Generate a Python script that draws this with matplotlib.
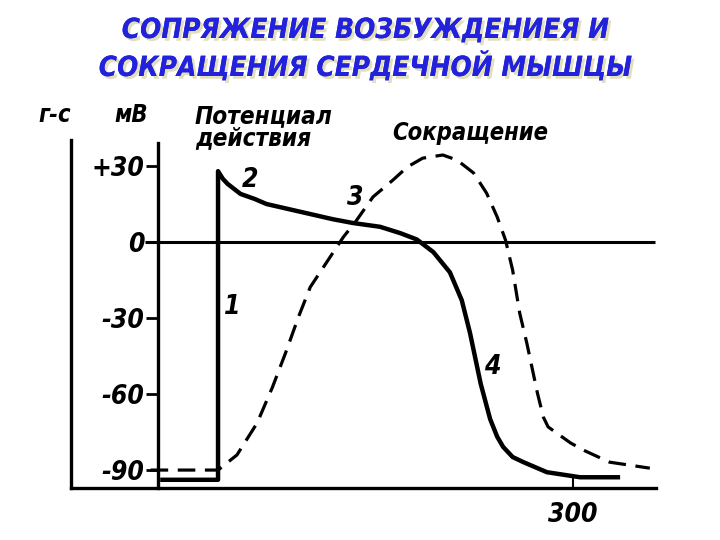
import matplotlib
matplotlib.use('Agg')
import matplotlib.pyplot as plt
import matplotlib.patheffects as pe

W, H = 720, 540

# Потенциал действия: время (мс) и мембранный потенциал (мВ)
ap_t = [-47, 0, 0, 4, 8, 19, 31, 41, 69, 97, 114, 137, 154, 168, 182, 196, 206,
        213, 222, 230, 236, 241, 249, 258, 278, 306, 338]
ap_mv = [-94, -94, 28, 25, 23, 19, 17, 15, 12, 9, 7.5, 6, 3.5, 1, -4, -12, -23,
         -36, -56, -70, -77, -81, -85, -87, -91, -93, -93]

# Сокращение: время (мс) и сила (% от максимума)
con_t = [-57, 0, 16, 33, 46, 57, 68, 78, 97, 106, 116, 131, 148, 160, 173, 190,
         202, 216, 227, 236, 243, 249, 255, 261, 270, 275, 279, 298, 309, 331, 365]
con_f = [0, 0, 4.8, 14.9, 26.3, 37.1, 48.6, 58.1, 68.9, 74.0, 78.7, 86.7, 92.1,
         96.2, 99.0, 100, 98.4, 94.3, 87.9, 80.3, 73.0, 63.5, 49.8, 40.3, 24.4,
         16.8, 13.7, 8.6, 6.3, 2.5, 0.6]

mv_ticks = [30, 0, -30, -60, -90]
mv_labels = ['+30', '0', '-30', '-60', '-90']
t_ticks = [300]
t_labels = ['300']

hand = ['DejaVu Sans']

fig = plt.figure(figsize=(W / 100, H / 100), dpi=100)
fig.patch.set_facecolor('white')


def px(x, y):
    return (x / W, 1 - y / H)


ax = fig.add_axes([0, 0, 1, 1])
ax.set_xlim(-184.3, 424.3)
ax.set_ylim(-117.8, 95.65)
ax.patch.set_alpha(0)

for s in ['top', 'right']:
    ax.spines[s].set_visible(False)
ax.spines['left'].set_position(('data', -50.7))
ax.spines['left'].set_bounds(-97.2, 39)
ax.spines['bottom'].set_position(('data', -97.2))
ax.spines['bottom'].set_bounds(-124.3, 370)
for s in ['left', 'bottom']:
    ax.spines[s].set_linewidth(2.4)

ax.set_yticks(mv_ticks)
ax.set_yticklabels(mv_labels)
ax.set_xticks(t_ticks)
ax.set_xticklabels(t_labels)
ax.tick_params(axis='y', direction='out', length=9, width=2, pad=1)
ax.tick_params(axis='x', direction='in', length=7, width=1.5, pad=10)
for lab in ax.get_yticklabels() + ax.get_xticklabels():
    lab.set_family(hand)
    lab.set_stretch('condensed')
    lab.set_fontsize(19)
    lab.set_style('italic')
    lab.set_weight('bold')

ax.hlines(0, -61.7, 369.4, color='black', lw=2.2)
ax.plot(ap_t, ap_mv, color='black', lw=3.2, solid_joinstyle='round')

# ось силы сокращения
ax2 = ax.twinx()
ax2.set_ylim(-22.2, 149.2)
ax2.set_yticks([])
for s in ['top', 'right', 'bottom']:
    ax2.spines[s].set_visible(False)
ax2.spines['left'].set_visible(True)
ax2.spines['left'].set_position(('data', -124.3))
ax2.spines['left'].set_bounds(-5.7, 104.8)
ax2.spines['left'].set_linewidth(2.4)
ax2.plot(con_t, con_f, color='black', lw=2.3, dashes=(5.5, 3))

title_fx = [pe.withSimplePatchShadow(offset=(2, -2), shadow_rgbFace='#d8d0a0', alpha=0.7),
            pe.Normal()]
for y, line in [(30, 'СОПРЯЖЕНИЕ ВОЗБУЖДЕНИЕЯ И'), (66, 'СОКРАЩЕНИЯ СЕРДЕЧНОЙ МЫШЦЫ')]:
    fig.text(*px(365, y), line, ha='center', va='center', fontsize=20,
             family=hand, stretch='condensed', weight='bold', style='italic',
             color='#2222dd', path_effects=title_fx)

lbl = dict(family=hand, stretch='condensed', weight='bold', style='italic', color='black')
fig.text(*px(55, 115), 'г-с', ha='center', va='center', fontsize=17, **lbl)
fig.text(*px(131, 115), 'мВ', ha='center', va='center', fontsize=17, **lbl)
fig.text(*px(195, 116), 'Потенциал', ha='left', va='center', fontsize=17.5, **lbl)
fig.text(*px(195, 138), 'действия', ha='left', va='center', fontsize=17.5, **lbl)
fig.text(*px(470, 133), 'Сокращение', ha='center', va='center', fontsize=17, **lbl)
for x, y, s in [(232, 307, '1'), (250, 180, '2'), (355, 198, '3'), (492, 367, '4')]:
    fig.text(*px(x, y), s, ha='center', va='center', fontsize=19, **lbl)

fig.savefig('out.png', dpi=100)
